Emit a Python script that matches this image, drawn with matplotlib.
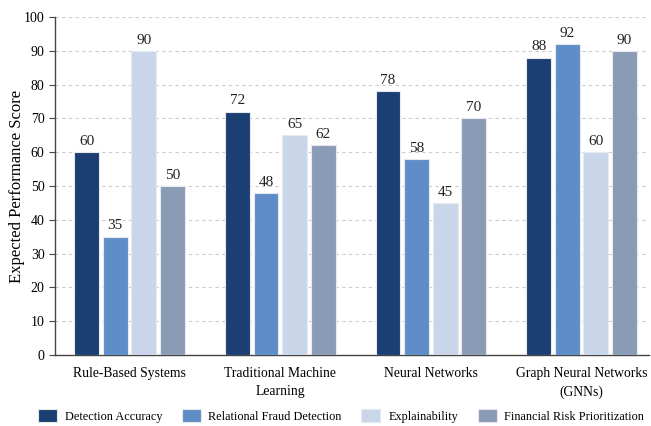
import matplotlib
matplotlib.use("Agg")
import matplotlib.pyplot as plt
import numpy as np

categories = ["Rule-Based Systems", "Traditional Machine\nLearning", "Neural Networks", "Graph Neural Networks\n(GNNs)"]
series_names = ["Detection Accuracy", "Relational Fraud Detection", "Explainability", "Financial Risk Prioritization"]
detection_accuracy = [60, 72, 78, 88]
relational_fraud = [35, 48, 58, 92]
explainability = [90, 65, 45, 60]
financial_risk = [50, 62, 70, 90]
y_ticks = [0, 10, 20, 30, 40, 50, 60, 70, 80, 90, 100]

colors = ["#1b3f72", "#5f8dc8", "#c9d6ea", "#8a9bb6"]

plt.rcParams['font.family'] = ['Liberation Serif', 'DejaVu Serif']

fig = plt.figure(figsize=(6.51, 4.26), dpi=100)
ax = fig.add_axes([0.0845, 0.167, 0.913, 0.793])

x = np.arange(len(categories))
pitch = 0.19
width = 0.165
all_series = [detection_accuracy, relational_fraud, explainability, financial_risk]
for i, (vals, name, c) in enumerate(zip(all_series, series_names, colors)):
    offs = (i - 1.5) * pitch
    bars = ax.bar(x + offs, vals, width, color=c, edgecolor="#e6e9ef", linewidth=0.8, label=name, zorder=3)
    ax.bar_label(bars, labels=[str(v) for v in vals], padding=3, fontsize=11, color="#222222")

ax.set_ylim(0, 100)
ax.set_yticks(y_ticks)
ax.set_xlim(-0.495, 3.45)
ax.set_xticks(x)
ax.set_xticklabels(categories, fontsize=9.8, linespacing=1.5)
ax.tick_params(axis='x', length=0, pad=9)
ax.tick_params(axis='y', labelsize=10, length=4, color="#444444")
ax.set_ylabel("Expected Performance Score", fontsize=12)
ax.yaxis.set_label_coords(-0.05, 0.5)
ax.yaxis.grid(True, linestyle=(0, (3, 3)), color="#cccccc", linewidth=0.8, zorder=0)
ax.set_axisbelow(True)
for s in ["top", "right"]:
    ax.spines[s].set_visible(False)
for s in ["left", "bottom"]:
    ax.spines[s].set_color("#444444")
    ax.spines[s].set_linewidth(1.0)

leg = fig.legend(loc="center", bbox_to_anchor=(341 / 651, 1 - 416 / 426), ncol=4, frameon=False,
                 fontsize=8.8, handlelength=1.55, handleheight=1.15, columnspacing=1.6,
                 handletextpad=0.65, borderpad=0.1)

fig.savefig("out.png", dpi=100)
